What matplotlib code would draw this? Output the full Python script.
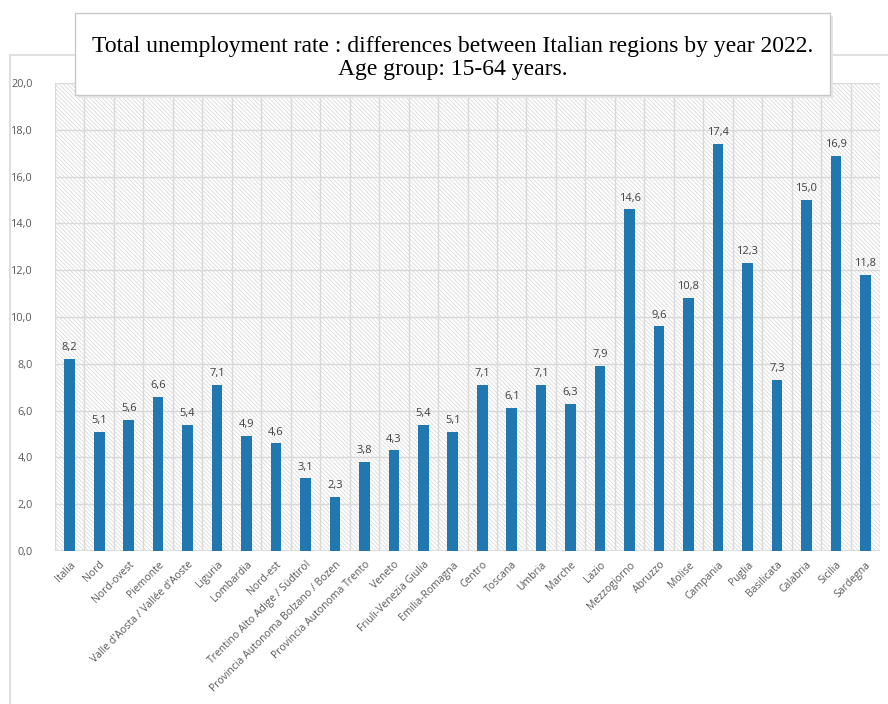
import matplotlib
import matplotlib.pyplot as plt
from matplotlib.patches import Rectangle
from matplotlib.ticker import FuncFormatter

matplotlib.use("Agg")  # headless plotting

regions = [
    "Italia", "Nord", "Nord-ovest", "Piemonte", "Valle d'Aosta / Vallée d'Aoste",
    "Liguria", "Lombardia", "Nord-est", "Trentino Alto Adige / Südtirol",
    "Provincia Autonoma Bolzano / Bozen", "Provincia Autonoma Trento", "Veneto",
    "Friuli-Venezia Giulia", "Emilia-Romagna", "Centro", "Toscana", "Umbria",
    "Marche", "Lazio", "Mezzogiorno", "Abruzzo", "Molise", "Campania", "Puglia",
    "Basilicata", "Calabria", "Sicilia", "Sardegna",
]
rates = [
    8.2, 5.1, 5.6, 6.6, 5.4, 7.1, 4.9, 4.6, 3.1, 2.3, 3.8, 4.3, 5.4, 5.1,
    7.1, 6.1, 7.1, 6.3, 7.9, 14.6, 9.6, 10.8, 17.4, 12.3, 7.3, 15.0, 16.9, 11.8,
]
y_ticks = [0, 2, 4, 6, 8, 10, 12, 14, 16, 18, 20]

bar_color = "#2178b0"
grid_color = "#d9d9d9"
text_gray = "#595959"

plt.rcParams["hatch.linewidth"] = 0.6

fig = plt.figure(figsize=(8.88, 7.04), dpi=100)

# outer chart frame
fig.add_artist(Rectangle((10 / 888, -0.05), 1.0, 1 - 55 / 704 + 0.05,
                         transform=fig.transFigure, fill=False,
                         edgecolor=grid_color, linewidth=1.2, zorder=0))

ax = fig.add_axes([55 / 888, 1 - 551 / 704, 825 / 888, (551 - 83) / 704])
ax.add_patch(Rectangle((0, 0), 1, 1, transform=ax.transAxes, facecolor="white",
                       edgecolor="#dadada", hatch="\\\\\\\\\\\\\\\\", linewidth=0, zorder=0))

x = range(len(regions))
bars = ax.bar(x, rates, width=0.36, color=bar_color, zorder=3)
for xi, v in zip(x, rates):
    ax.text(xi, v + 0.25, f"{v:.1f}".replace(".", ","), ha="center", va="bottom",
            fontsize=8, color="#404040", family="Open Sans", zorder=4)

ax.set_xlim(-0.5, len(regions) - 0.5)
ax.set_ylim(0, 20)
ax.set_yticks(y_ticks)
ax.yaxis.set_major_formatter(FuncFormatter(lambda v, p: f"{v:.1f}".replace(".", ",")))

# grid: horizontal at ticks, vertical between categories
for yv in y_ticks[1:]:
    ax.axhline(yv, color=grid_color, linewidth=1.0, zorder=1)
for b in range(len(regions) + 1):
    ax.axvline(b - 0.5, color=grid_color, linewidth=1.0, zorder=1)

ax.set_xticks(list(x))
ax.set_xticklabels(regions, rotation=45, ha="right", rotation_mode="anchor",
                   fontsize=7.5, color=text_gray, family="Open Sans")
ax.tick_params(axis="x", length=0, pad=6)
ax.tick_params(axis="y", length=0, pad=16, labelsize=7.8, labelcolor=text_gray)
for lab in ax.get_yticklabels():
    lab.set_family("Open Sans")
for s in ax.spines.values():
    s.set_visible(False)
ax.axhline(0, color=grid_color, linewidth=1.2, zorder=2)

# title box with shadow
bx, by, bw, bh = 75 / 888, 1 - 95 / 704, 755 / 888, 82 / 704
fig.add_artist(Rectangle((bx + 3 / 888, by - 3 / 704), bw, bh, transform=fig.transFigure,
                         facecolor="#e6e6e6", edgecolor="none", zorder=5))
fig.add_artist(Rectangle((bx, by), bw, bh, transform=fig.transFigure,
                         facecolor="white", edgecolor="#c8c8c8", linewidth=1.0, zorder=6))
fig.text(bx + bw / 2, 1 - 58 / 704,
         "Total unemployment rate : differences between Italian regions by year 2022.\n"
         "Age group: 15-64 years.",
         ha="center", va="center", fontsize=17, family="Liberation Serif",
         linespacing=1.15, zorder=7)

fig.savefig("out.png", dpi=100)
